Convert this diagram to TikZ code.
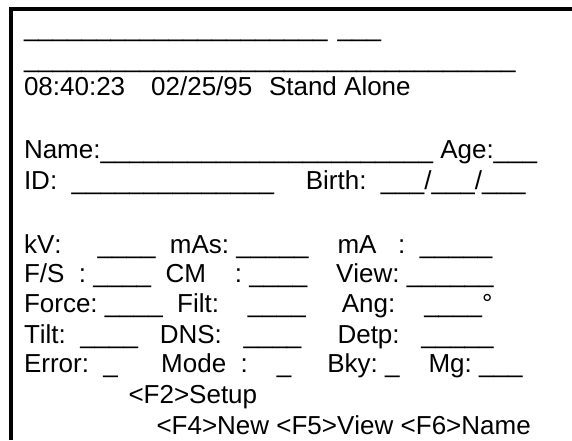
\documentclass[tikz,border=0pt]{standalone}
\usepackage{fontspec}
\setmainfont{Liberation Sans}[Kerning=Off]
\newcount\ucnt
\newcommand\Us[1]{\ucnt=#1\relax\loop\ifnum\ucnt>0 \textunderscore\advance\ucnt by -1\relax\repeat}
\newcommand\SP[1]{\hspace*{#1\fontdimen2\font}}
\begin{document}
\begin{tikzpicture}[x=1pt,y=-1pt,
  txt/.style={anchor=base west,inner sep=0pt,outer sep=0pt,font=\fontsize{26}{30}\selectfont,text=black},
  frame/.style={draw=black,line width=4pt,line cap=butt,line join=miter}]
\useasboundingbox (0,0) rectangle (572,440);
\fill[white] (0,0) rectangle (572,440);
\draw[frame] (11,440) -- (11,9) -- (572,9);
\node[txt] (row1) at (24,36.7) {\Us{21}\SP{1.4}\Us{3}};
\node[txt] (row2) at (24,67.7) {\Us{34}};
\node[txt] (clock) at (24,95) {08:40:23\SP{3.6}02/25/95\SP{2.3}Stand Alone};
\node[txt] (name) at (24,158) {Name:\Us{23}\SP{1}Age:\Us{3}};
\node[txt] (id) at (24,189.5) {ID:\SP{2}\Us{14}\SP{4.4}Birth:\SP{2}\Us{3}/\Us{3}/\Us{3}};
\node[txt] (kv) at (24,253) {kV:\SP{5}\Us{4}\SP{2}mAs:\SP{1}\Us{5}\SP{4}mA\SP{3}:\SP{2}\Us{5}};
\node[txt] (fs) at (24,282) {F/S\SP{2}:\SP{1}\Us{4}\SP{2}CM\SP{4}:\SP{1}\Us{4}\SP{4}View:\SP{1}\Us{6}};
\node[txt] (force) at (24,312) {Force:\SP{1}\Us{4}\SP{2}Filt:\SP{4}\Us{4}\SP{5}Ang:\SP{4}\Us{4}\textdegree};
\node[txt] (tilt) at (24,343) {Tilt:\SP{2}\Us{4}\SP{3}DNS:\SP{3}\Us{4}\SP{5}Detp:\SP{3}\Us{5}};
\node[txt] (error) at (24,372.5) {Error:\SP{2}\Us{1}\SP{6}Mode\SP{2}:\SP{4}\Us{1}\SP{5}Bky:\SP{1}\Us{1}\SP{4}Mg:\SP{1}\Us{3}};
\node[txt] (f2) at (128.5,403.5) {<F2>Setup};
\node[txt] (f4) at (156.5,434.5) {<F4>New <F5>View <F6>Name};
\end{tikzpicture}
\end{document}
